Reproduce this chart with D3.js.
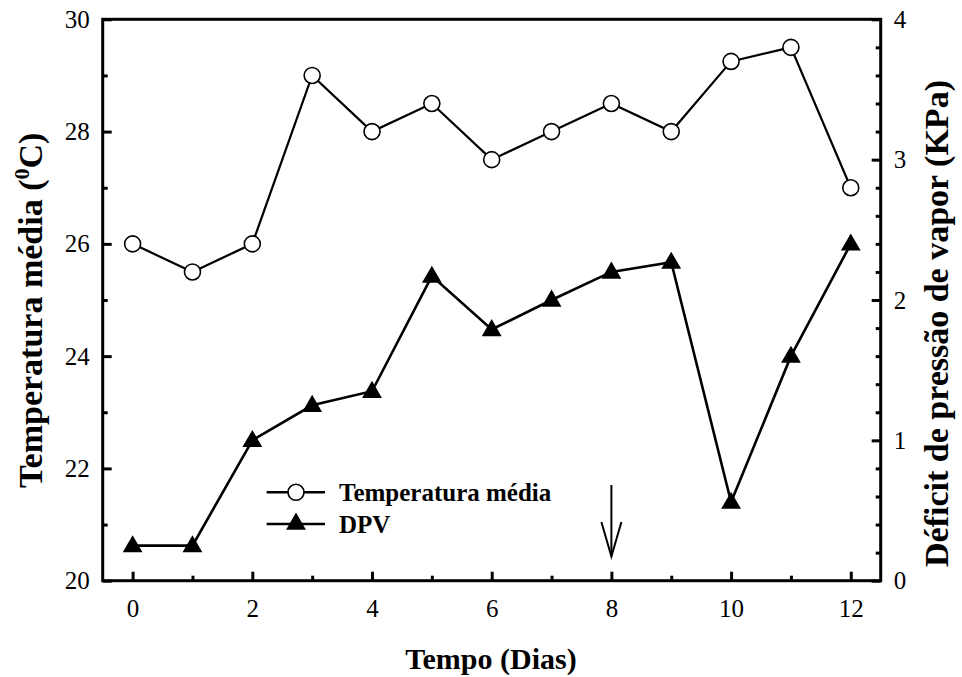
<!DOCTYPE html>
<html><head><meta charset="utf-8">
<script src="https://cdn.jsdelivr.net/npm/d3@7"></script>
<style>body{margin:0;background:#fff}svg{display:block}</style>
</head><body>
<script>
const days = [0,1,2,3,4,5,6,7,8,9,10,11,12];
const temperatura = [26,25.5,26,29,28,28.5,27.5,28,28.5,28,29.25,29.5,27];
const dpv = [0.25,0.25,1.0,1.25,1.35,2.17,1.79,2.0,2.2,2.27,0.56,1.6,2.4];
const xTicks = [0,2,4,6,8,10,12];
const yLeftTicks = [20,22,24,26,28,30];
const yRightTicks = [0,1,2,3,4];
const legendLabels = ["Temperatura média","DPV"];
const arrowDay = 8;

const FONT='"Liberation Serif"';
const W=962,H=677;
const svg=d3.select("body").append("svg").attr("width",W).attr("height",H);
const L=102.7,R=880.7,T=19.3,B=580.7;
const x=d3.scaleLinear().domain([-0.5,12.5]).range([L,R]);
const yL=d3.scaleLinear().domain([20,30]).range([B,T]);
const yR=d3.scaleLinear().domain([0,4]).range([B,T]);

svg.append("rect").attr("x",L).attr("y",T).attr("width",R-L).attr("height",B-T)
 .attr("fill","none").attr("stroke","#000").attr("stroke-width",3);

const xAx=svg.append("g").attr("transform",`translate(0,${B})`)
 .call(d3.axisBottom(x).tickValues(xTicks).tickSizeInner(-9).tickSizeOuter(0).tickPadding(19).tickFormat(d3.format("d")));
const xMin=svg.append("g").attr("transform",`translate(0,${B})`)
 .call(d3.axisBottom(x).tickValues(d3.range(1,12,2)).tickSizeInner(-5).tickSizeOuter(0).tickFormat(""));
const yAx=svg.append("g").attr("transform",`translate(${L},0)`)
 .call(d3.axisLeft(yL).tickValues(yLeftTicks).tickSizeInner(-9).tickSizeOuter(0).tickPadding(13).tickFormat(d3.format("d")));
const yMin=svg.append("g").attr("transform",`translate(${L},0)`)
 .call(d3.axisLeft(yL).tickValues(d3.range(21,30,2)).tickSizeInner(-5).tickSizeOuter(0).tickFormat(""));
const rAx=svg.append("g").attr("transform",`translate(${R},0)`)
 .call(d3.axisRight(yR).tickValues(yRightTicks).tickSizeInner(-9).tickSizeOuter(0).tickPadding(13).tickFormat(d3.format("d")));
const rMin=svg.append("g").attr("transform",`translate(${R},0)`)
 .call(d3.axisRight(yR).tickValues(d3.range(0,4.01,0.2).filter(v=>Math.abs(v-Math.round(v))>0.01)).tickSizeInner(-5).tickSizeOuter(0).tickFormat(""));
[xAx,xMin,yAx,yMin,rAx,rMin].forEach(g=>{
  g.attr("font-family",null).attr("font-size",null);
  g.select(".domain").remove();
  g.selectAll("line").attr("stroke","#000").attr("stroke-width",3);
  g.selectAll("text").style("font-family",FONT).style("font-size","25px").attr("fill","#000");
});

const lineT=d3.line().x((d,i)=>x(days[i])).y(d=>yL(d));
const lineD=d3.line().x((d,i)=>x(days[i])).y(d=>yR(d));
svg.append("path").attr("d",lineT(temperatura)).attr("fill","none").attr("stroke","#000").attr("stroke-width",2.2);
svg.append("path").attr("d",lineD(dpv)).attr("fill","none").attr("stroke","#000").attr("stroke-width",2.6);

const tri=d3.symbol().type(d3.symbolTriangle).size(170);
svg.selectAll(".tri").data(dpv).enter().append("path")
 .attr("d",tri).attr("transform",(d,i)=>`translate(${x(days[i])},${yR(d)+1})`).attr("fill","#000");
svg.selectAll(".circ").data(temperatura).enter().append("circle")
 .attr("cx",(d,i)=>x(days[i])).attr("cy",d=>yL(d)).attr("r",8)
 .attr("fill","#fff").attr("stroke","#000").attr("stroke-width",1.6);

const lg=svg.append("g");
[[492.3,"circle"],[524,"tri"]].forEach(([yy,t],i)=>{
  lg.append("line").attr("x1",266.7).attr("x2",325).attr("y1",yy).attr("y2",yy).attr("stroke","#000").attr("stroke-width",2.4);
  if(t==="circle") lg.append("circle").attr("cx",296).attr("cy",yy).attr("r",8).attr("fill","#fff").attr("stroke","#000").attr("stroke-width",1.6);
  else lg.append("path").attr("d",tri).attr("transform",`translate(296,${yy})`).attr("fill","#000");
  lg.append("text").attr("x",339).attr("y",yy+9).style("font-family",FONT).style("font-weight","bold").style("font-size","25px").text(legendLabels[i]);
});

const ax=x(arrowDay);
svg.append("line").attr("x1",ax).attr("x2",ax).attr("y1",485).attr("y2",556.5).attr("stroke","#000").attr("stroke-width",2);
svg.append("path").attr("d",`M${ax-10},522 L${ax},556.5 L${ax+10},522`).attr("fill","none").attr("stroke","#000").attr("stroke-width",2);

svg.append("text").attr("x",491).attr("y",669).attr("text-anchor","middle")
 .style("font-family",FONT).style("font-weight","bold").style("font-size","30px").text("Tempo (Dias)");
const lt=svg.append("text").attr("transform",`translate(42,488) rotate(-90)`).attr("text-anchor","start")
 .style("font-family",FONT).style("font-weight","bold").style("font-size","34px");
lt.append("tspan").text("Temperatura média (");
lt.append("tspan").style("font-size","22px").attr("dy",-13).text("0");
lt.append("tspan").attr("dy",13).text("C)");
svg.append("text").attr("transform",`translate(948,567) rotate(-90)`).attr("text-anchor","start")
 .style("font-family",FONT).style("font-weight","bold").style("font-size","34px").text("Déficit de pressão de vapor (KPa)");
</script>
</body></html>
